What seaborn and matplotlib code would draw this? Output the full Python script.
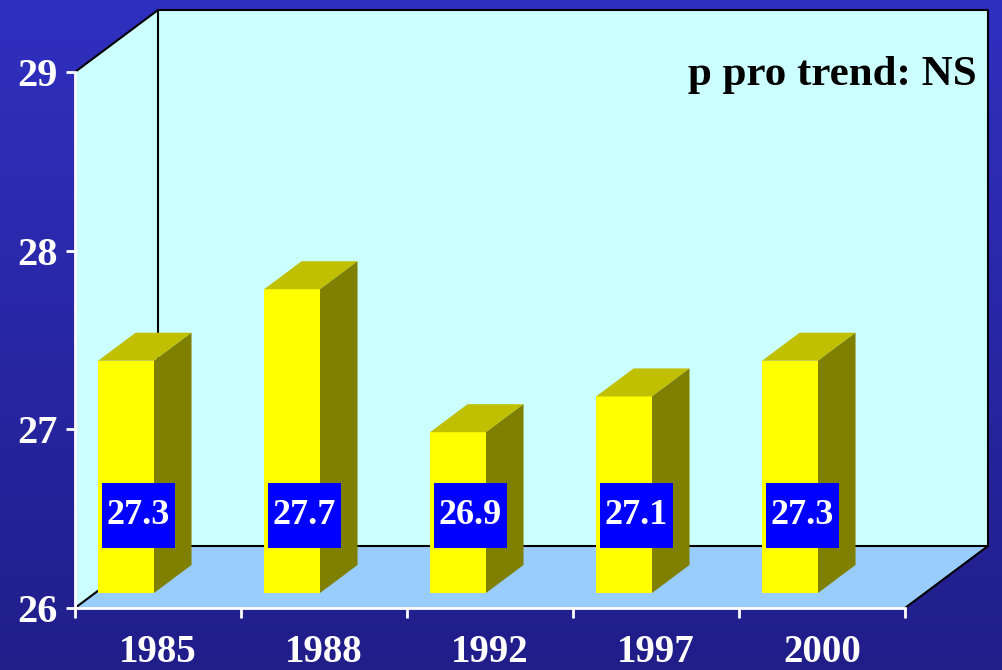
import numpy as np
import pandas as pd
import seaborn as sns
import matplotlib.pyplot as plt
from matplotlib.patches import Polygon, Rectangle

years = ["1985", "1988", "1992", "1997", "2000"]
values = [27.3, 27.7, 26.9, 27.1, 27.3]
y_ticks = [26, 27, 28, 29]
note = "p pro trend: NS"

df = pd.DataFrame({"year": years, "value": values})

sns.set_theme(style="white")
plt.rcParams["font.family"] = ["Liberation Serif", "DejaVu Serif"]
plt.rcParams["font.weight"] = "bold"

base = y_ticks[0]
top = y_ticks[-1]
# depth of the fake 3d box, in data units (x: categories, y: values)
DX, DY = 0.5, 0.347
front_frac, back_frac = 0.242, 0.694
bar_w = 0.337

fig = plt.figure(figsize=(10.02, 6.70), dpi=100)

# background gradient
bg = fig.add_axes([0, 0, 1, 1], zorder=-10)
grad = np.linspace(0, 1, 256).reshape(-1, 1)
top_c = np.array([0x30, 0x30, 0xC0]) / 255
bot_c = np.array([0x21, 0x1E, 0x8A]) / 255
img = top_c + (bot_c - top_c) * grad[:, :, None]
bg.imshow(img, aspect="auto", extent=[0, 1, 0, 1])
bg.axis("off")

ax = fig.add_axes([75 / 1002, 62 / 670, 830 / 1002, 536 / 670])
ax.set_facecolor("none")

sns.barplot(data=df, x="year", y="value", color="#FFFF00", saturation=1,
            width=bar_w, ax=ax, zorder=5)
ax.set_xlim(-0.5, len(years) - 0.5)
ax.set_ylim(base, top)
ax.set_xlabel("")
ax.set_ylabel("")

n = len(years)
wall = "#CCFFFF"
floor = "#99CCFF"
# left wall, back wall, floor
ax.add_patch(Polygon([(-0.5, base), (-0.5 + DX, base + DY), (-0.5 + DX, top + DY), (-0.5, top)],
                     closed=True, fc=wall, ec="none", clip_on=False, zorder=0))
ax.add_patch(Polygon([(-0.5 + DX, base + DY), (n - 0.5 + DX, base + DY),
                      (n - 0.5 + DX, top + DY), (-0.5 + DX, top + DY)],
                     closed=True, fc=wall, ec="none", clip_on=False, zorder=0))
ax.add_patch(Polygon([(-0.5, base), (n - 0.5, base), (n - 0.5 + DX, base + DY), (-0.5 + DX, base + DY)],
                     closed=True, fc=floor, ec="none", clip_on=False, zorder=1))
edge_kw = dict(color="black", lw=1.5, clip_on=False, zorder=2)
ax.plot([-0.5, -0.5 + DX, n - 0.5 + DX, n - 0.5 + DX, n - 0.5],
        [top, top + DY, top + DY, base + DY, base], **edge_kw)
ax.plot([-0.5 + DX, -0.5 + DX], [base + DY, top + DY], **edge_kw)
ax.plot([-0.5, -0.5 + DX, n - 0.5 + DX], [base, base + DY, base + DY], **edge_kw)

# turn the flat bars into boxes
fx, fy = front_frac * DX, front_frac * DY
dx, dy = (back_frac - front_frac) * DX, (back_frac - front_frac) * DY
for i, (p, v) in enumerate(zip(ax.patches[:n], values)):
    x0 = i - 0.5 + 0.018 + fx
    y0 = base + fy
    y1 = v + fy
    p.set_x(x0)
    p.set_width(bar_w)
    p.set_y(y0)
    p.set_height(v - base)
    p.set_edgecolor("none")
    x1 = x0 + bar_w
    ax.add_patch(Polygon([(x0, y1), (x1, y1), (x1 + dx, y1 + dy), (x0 + dx, y1 + dy)],
                         closed=True, fc="#C0C000", ec="none", clip_on=False, zorder=5))
    ax.add_patch(Polygon([(x1, y0), (x1 + dx, y0 + dy), (x1 + dx, y1 + dy), (x1, y1)],
                         closed=True, fc="#808000", ec="none", clip_on=False, zorder=5))
    # value label box
    bx, by = i - 0.12, base + 0.52
    ax.add_patch(Rectangle((bx - 0.22, by - 0.182), 0.44, 0.364, fc="#0000FF", ec="none",
                           clip_on=False, zorder=6))
    ax.text(bx, by - 0.005, f"{v:.1f}", ha="center", va="center", color="white",
            fontsize=26, fontweight="bold", zorder=7)

ax.text(n - 0.5 + 0.434, top - 0.073, note, ha="right", va="baseline", color="black",
        fontsize=31, fontweight="bold", zorder=7)

# axes styling
for s in ["top", "right"]:
    ax.spines[s].set_visible(False)
for s in ["left", "bottom"]:
    ax.spines[s].set_color("white")
    ax.spines[s].set_linewidth(2)
    ax.spines[s].set_zorder(3)
ax.set_yticks(y_ticks)
ax.set_yticklabels([str(t) for t in y_ticks])
ax.set_xticks(range(n))
ax.set_xticklabels(years)
ax.set_xticks(np.arange(-0.5, n, 1), minor=True)
ax.tick_params(axis="x", which="both", bottom=True)
ax.tick_params(axis="y", which="both", left=True)
ax.tick_params(axis="x", which="major", length=0, pad=19, labelsize=28, labelcolor="white")
ax.tick_params(axis="x", which="minor", length=7, width=2, color="white", direction="out")
ax.tick_params(axis="y", length=6.5, width=2, color="white", direction="out", pad=6,
               labelsize=29, labelcolor="white")
for lab in ax.get_xticklabels() + ax.get_yticklabels():
    lab.set_fontweight("bold")

fig.savefig("out.png", dpi=100)
